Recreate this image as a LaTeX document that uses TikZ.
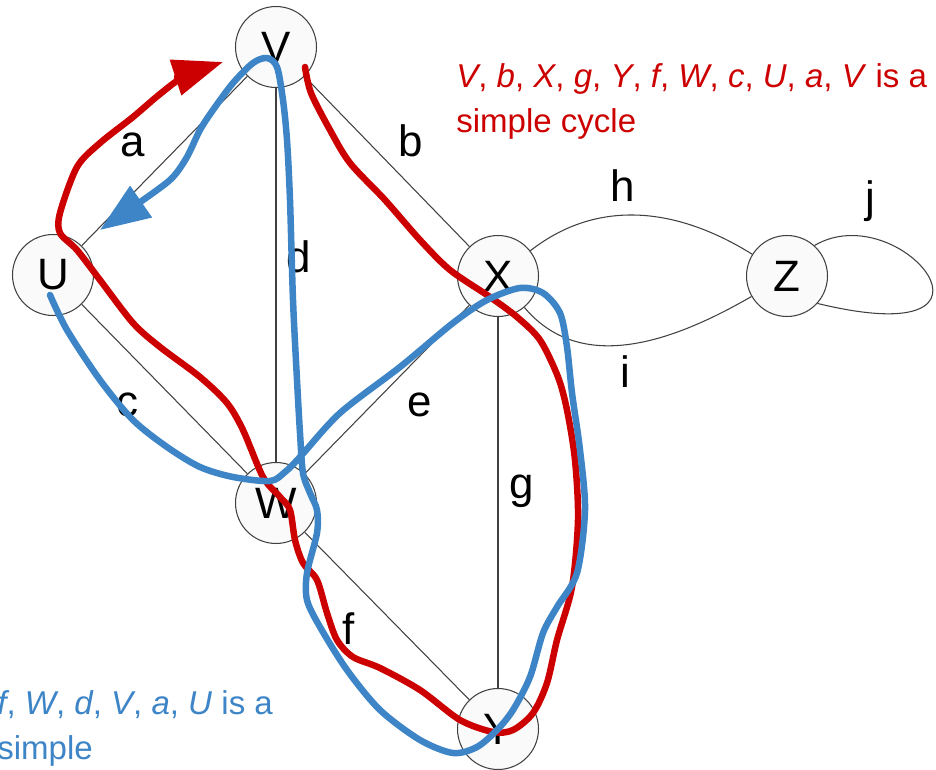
\documentclass[tikz,border=0pt]{standalone}
\usepackage{fontspec}
\setmainfont{Liberation Sans}
\usetikzlibrary{arrows.meta}
\definecolor{cyclered}{RGB}{204,0,0}
\definecolor{cycleblue}{RGB}{61,133,198}

\begin{document}
\begin{tikzpicture}[x=0.02cm,y=-0.02cm,
  vertex/.style={circle,draw=black!75,fill=black!2,line width=0.6pt,minimum size=1.62cm,inner sep=0pt,font=\fontsize{25}{30}\selectfont},
  lbl/.style={inner sep=0pt,font=\fontsize{25}{30}\selectfont},
  link/.style={draw=black!75,line width=0.6pt},
  redcycle/.style={cyclered,line width=3.7pt,line cap=round,line join=round},
  bluecycle/.style={cycleblue,line width=3.7pt,line cap=round,line join=round},
  caption/.style={inner sep=0pt,anchor=north west,align=left,font=\fontsize{18.8}{26}\selectfont}]
\useasboundingbox (0,0) rectangle (936,770);

% vertices
\node[vertex] (V) at (276,47) {V};
\node[vertex] (U) at (53,275) {U};
\node[vertex] (X) at (498,276) {X};
\node[vertex] (Z) at (787,276) {Z};
\node[vertex] (W) at (276,503) {W};
\node[vertex] (Y) at (498,729) {Y};

% edges
\draw[link] (U) -- (V);
\draw[link] (V) -- (X);
\draw[link] (V) -- (W);
\draw[link] (U) -- (W);
\draw[link] (W) -- (X);
\draw[link] (W) -- (Y);
\draw[link] (X) -- (Y);
\draw[link] (X) to[out=38,in=148] (Z);
\draw[link] (X) to[out=-50,in=-150] (Z);
\draw[link] (Z.48) .. controls (900,195) and (1030,355) .. (Z.-42);

% edge labels
\node[lbl] (la) at (133,145) {a};
\node[lbl] (lb) at (411,141) {b};
\node[lbl] (lc) at (127,405) {c};
\node[lbl] (ld) at (299,257) {d};
\node[lbl] (le) at (420,405) {e};
\node[lbl] (lf) at (349,629) {f};
\node[lbl] (lg) at (522,491) {g};
\node[lbl] (lh) at (623,186) {h};
\node[lbl] (li) at (625,372) {i};
\node[lbl] (lj) at (870,201) {j};

% red cycle
\draw[redcycle,-{Triangle[length=1cm,width=0.72cm]}] plot[smooth,tension=0.5] coordinates {
  (305,67) (311,93) (330,130) (350,163) (385,200) (420,240) (450,270) (490,297)
  (517,317) (540,340) (558,377) (567,410) (575,460) (578,520) (572,587) (557,640)
  (547,683) (533,713) (513,730) (493,732) (460,720) (420,690) (380,668) (353,657)
  (337,640) (327,613) (317,580) (303,563) (295,540) (290,510) (280,497) (263,477)
  (243,430) (227,403) (200,377) (160,347) (133,323) (100,280) (77,250) (60,233)
  (60,213) (77,167) (100,143) (133,117) (160,94) (185,76) (223,62)};

% blue cycle
\draw[bluecycle,-{Triangle[length=1cm,width=0.74cm]}] plot[smooth,tension=0.5] coordinates {
  (50,295) (67,330) (100,380) (133,420) (167,447) (200,467) (233,477) (270,481)
  (285,472) (300,457) (340,413) (400,367) (453,323) (487,300) (520,288) (543,293)
  (560,313) (567,347) (572,393) (580,450) (585,510) (577,573) (557,607) (543,633)
  (530,677) (513,710) (497,730) (477,747) (453,753) (420,740) (380,710) (347,670)
  (320,627) (307,600) (307,573) (317,533) (317,510) (310,493) (303,473) (300,433)
  (297,380) (293,300) (290,200) (287,140) (283,100) (277,67) (267,58) (253,63)
  (233,83) (213,110) (200,130) (187,157) (173,177) (153,193) (100,230)};

% captions
\node[caption,text=cyclered] (redcap) at (456,63)
  {\textit{V}, \textit{b}, \textit{X}, \textit{g}, \textit{Y}, \textit{f}, \textit{W}, \textit{c}, \textit{U}, \textit{a}, \textit{V} is a\\simple cycle};
\node[caption,text=cycleblue] (bluecap) at (-3,690)
  {\textit{f}, \textit{W}, \textit{d}, \textit{V}, \textit{a}, \textit{U} is a\\simple};
\end{tikzpicture}
\end{document}
